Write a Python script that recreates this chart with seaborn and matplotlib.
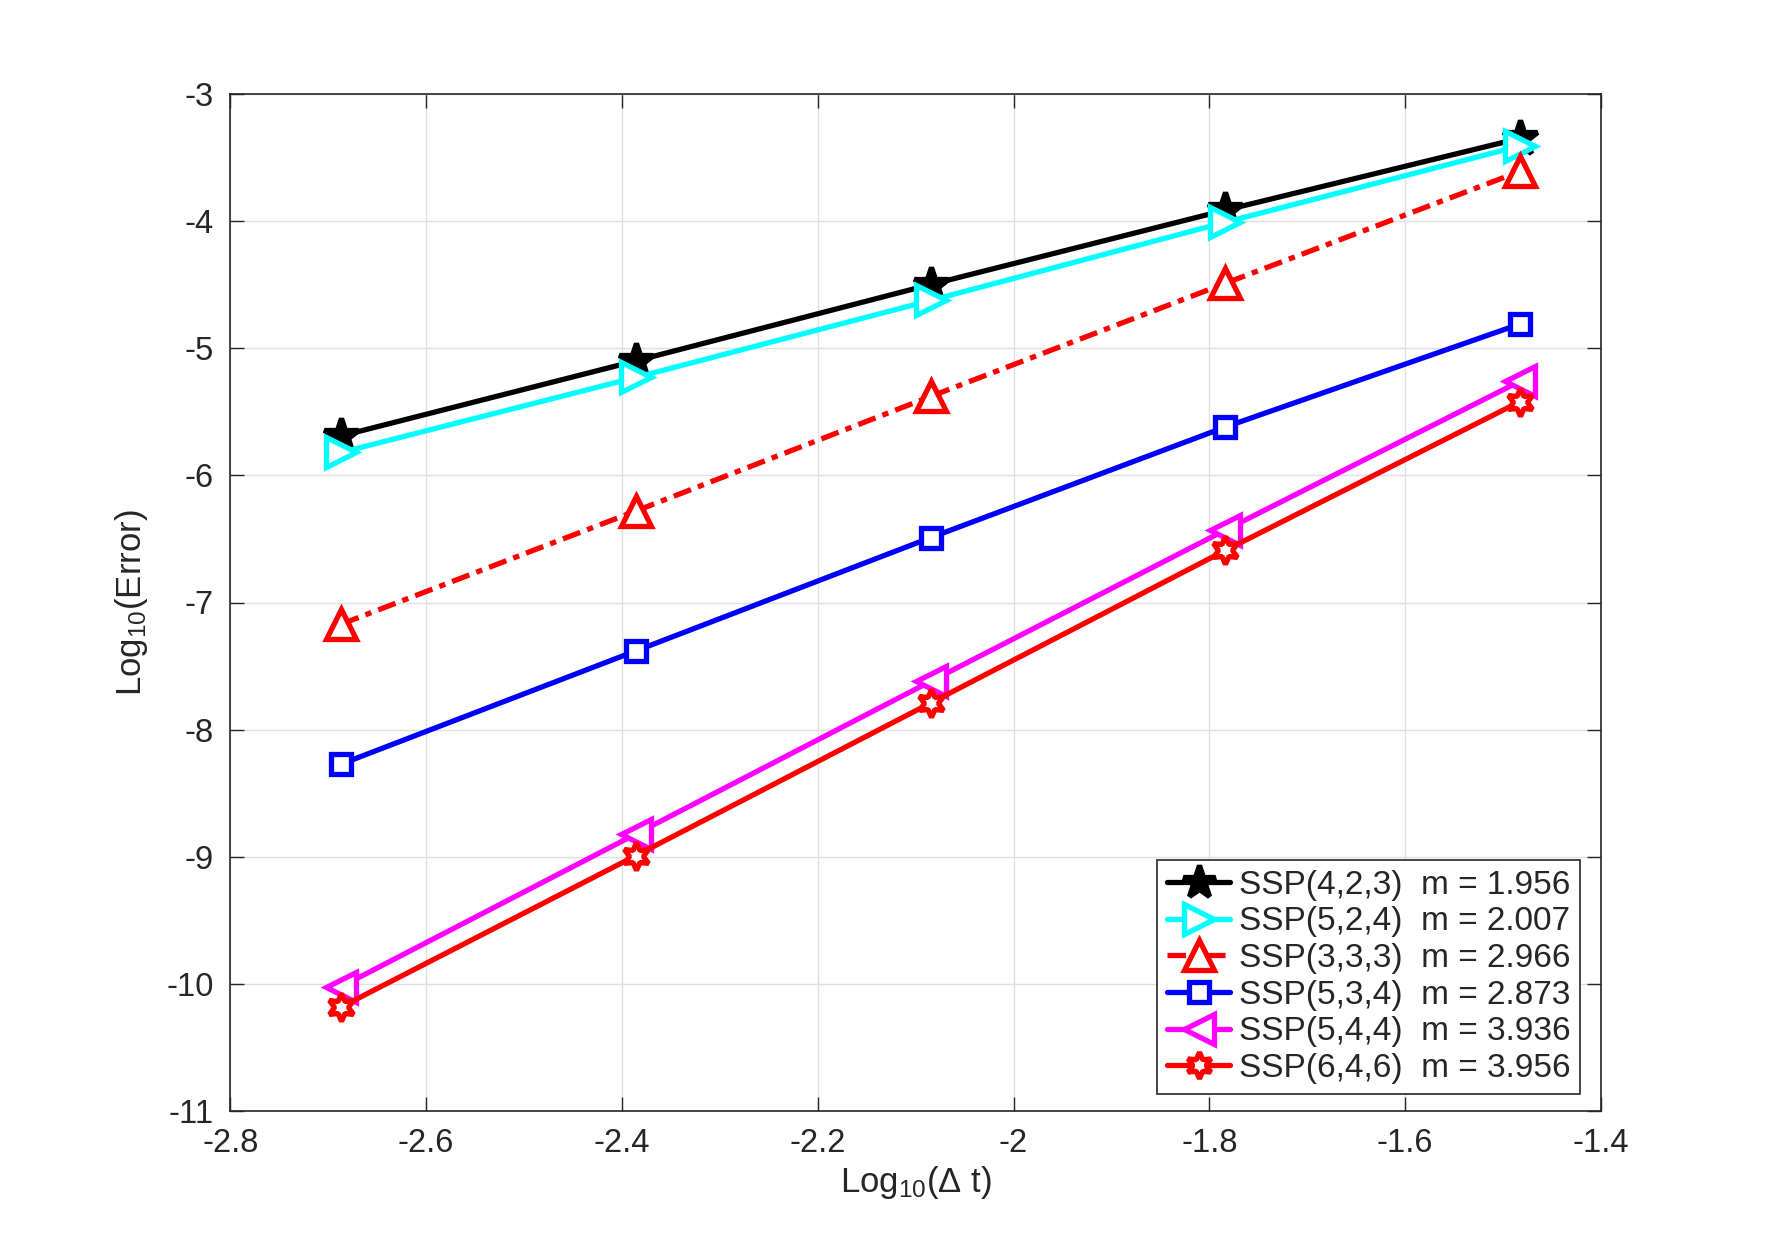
import matplotlib
matplotlib.use("Agg")
import matplotlib.pyplot as plt
import seaborn as sns
import pandas as pd

# ---- data ----
log_dt = [-2.6866, -2.3856, -2.0846, -1.7836, -1.4826]
err_423 = [-5.69, -5.10, -4.50, -3.915, -3.35]
err_524 = [-5.82, -5.23, -4.625, -4.01, -3.41]
err_333 = [-7.17, -6.28, -5.38, -4.49, -3.61]
err_534 = [-8.27, -7.38, -6.49, -5.62, -4.81]
err_544 = [-10.02, -8.82, -7.62, -6.43, -5.26]
err_646 = [-10.18, -8.99, -7.79, -6.59, -5.42]
names = ["SSP(4,2,3)", "SSP(5,2,4)", "SSP(3,3,3)", "SSP(5,3,4)", "SSP(5,4,4)", "SSP(6,4,6)"]
slopes = ["1.956", "2.007", "2.966", "2.873", "3.936", "3.956"]
series = [err_423, err_524, err_333, err_534, err_544, err_646]
xticks = [-2.8, -2.6, -2.4, -2.2, -2.0, -1.8, -1.6, -1.4]
xticklabels = ["-2.8", "-2.6", "-2.4", "-2.2", "-2", "-1.8", "-1.6", "-1.4"]
yticks = list(range(-11, -2))

sns.set_theme(style="white")
plt.rcParams["font.family"] = ["Liberation Sans", "DejaVu Sans"]
plt.rcParams["mathtext.default"] = "regular"
plt.rcParams["axes.unicode_minus"] = False

styles = [
    dict(color="black", marker="*", ms=26, mfc="black", ls="-"),
    dict(color="cyan", marker=">", ms=22, mfc="white", ls="-"),
    dict(color="red", marker="^", ms=22, mfc="white", ls=(0, (3.5, 1.4, 1.2, 1.4))),
    dict(color="blue", marker="s", ms=15, mfc="white", ls="-"),
    dict(color="magenta", marker="<", ms=22, mfc="white", ls="-"),
    dict(color="red", marker=(6, 1, 0), ms=20, mfc="white", ls="-"),
]

fig = plt.figure(figsize=(17.71, 12.50), dpi=100)
ax = fig.add_axes([0.130, 0.111, 0.774, 0.814])

for name, m, ys, st in zip(names, slopes, series, styles):
    df = pd.DataFrame({"x": log_dt, "y": ys})
    sns.lineplot(data=df, x="x", y="y", ax=ax, color=st["color"], lw=3.8,
                 linestyle=st["ls"], marker=st["marker"], markersize=st["ms"],
                 markerfacecolor=st["mfc"], markeredgecolor=st["color"],
                 markeredgewidth=3.8, label=f"{name}  m = {m}")

ax.set_xlim(-2.8, -1.4)
ax.set_ylim(-11, -3)
ax.set_xticks(xticks)
ax.set_xticklabels(xticklabels)
ax.set_yticks(yticks)
ax.set_yticklabels([str(t) for t in yticks])
ax.grid(True, color="0.88", lw=1.0)
ax.tick_params(axis="both", which="both", direction="in", length=10, width=1,
               labelsize=23.5, top=True, right=True, bottom=True, left=True,
               color="0.15", pad=12)
for s in ax.spines.values():
    s.set_visible(True)
    s.set_color("0.15")
    s.set_linewidth(1.2)

ax.set_xlabel("Log$_{10}$(Δ t)", fontsize=25, color="0.15", labelpad=4)
ax.set_ylabel("Log$_{10}$(Error)", fontsize=25, color="0.15", labelpad=12)
for lab in ax.get_xticklabels() + ax.get_yticklabels():
    lab.set_color("0.15")

leg = ax.legend(loc="lower right", bbox_to_anchor=(0.985, 0.017), fontsize=24,
                frameon=True, fancybox=False, edgecolor="0.15", framealpha=1,
                handlelength=1.9, handletextpad=0.25, labelspacing=0.17,
                borderpad=0.3, borderaxespad=0)
leg.get_frame().set_linewidth(1.2)
for h in leg.legend_handles:
    h.set_markersize(h.get_markersize() * 0.95)

fig.savefig("out.png", dpi=100, facecolor="white")
